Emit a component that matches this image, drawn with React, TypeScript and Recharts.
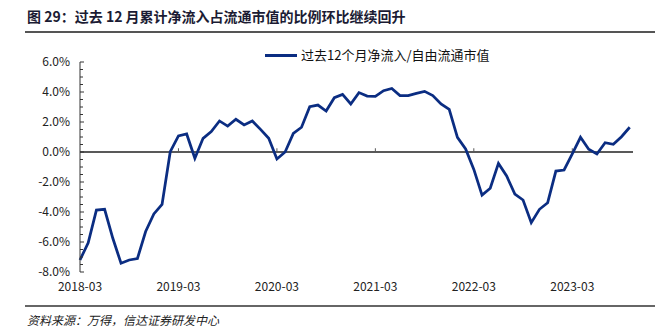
import React from "react";
import { LineChart, Line, XAxis, YAxis, ReferenceLine } from "recharts";

const TITLE = "图 29：过去 12 月累计净流入占流通市值的比例环比继续回升";
const SERIES_NAME = "过去12个月净流入/自由流通市值";
const SOURCE = "资料来源：万得，信达证券研发中心";

// Monthly values (%), 2018-03 .. 2023-10
const values: number[] = [
  -7.2, -6.05, -3.87, -3.82, -5.75, -7.42, -7.2, -7.1, -5.3, -4.13, -3.49, 0.02,
  1.07, 1.2, -0.42, 0.91, 1.36, 2.07, 1.73, 2.18, 1.8, 2.07, 1.51, 0.91,
  -0.47, 0.0, 1.24, 1.65, 3.02, 3.13, 2.73, 3.62, 3.84, 3.2, 3.96, 3.73,
  3.71, 4.09, 4.24, 3.76, 3.76, 3.91, 4.04, 3.76, 3.2, 2.84, 0.98, 0.2,
  -1.16, -2.87, -2.42, -0.76, -1.6, -2.8, -3.2, -4.71, -3.82, -3.38, -1.27, -1.2,
  -0.13, 0.98, 0.18, -0.13, 0.62, 0.51, 1.02, 1.65,
];

const xTickIndex: number[] = [0, 12, 24, 36, 48, 60];
const xTickLabels: string[] = ["2018-03", "2019-03", "2020-03", "2021-03", "2022-03", "2023-03"];
const yTicks: number[] = [
  -8, -7.5, -7, -6.5, -6, -5.5, -5, -4.5, -4, -3.5, -3, -2.5, -2, -1.5, -1, -0.5,
  0, 0.5, 1, 1.5, 2, 2.5, 3, 3.5, 4, 4.5, 5, 5.5, 6,
];

const data = values.map((v, i) => ({ idx: i, value: v }));

const LINE_COLOR = "#0b2d82";
const FONT = '"Noto Sans CJK SC", "Noto Sans", sans-serif';

const YTick = (props: any) => {
  const { x, y, payload } = props;
  const v: number = payload.value;
  const axisX = x + 10;
  const major = Math.abs(v % 2) < 1e-9;
  return (
    <g>
      <line x1={axisX} x2={axisX + (major ? 4 : 3)} y1={y} y2={y} stroke="#333" strokeWidth={1} />
      {major && (
        <text x={x} y={y} dy="0.3em" textAnchor="end" fontSize={12} fill="#222" fontFamily={FONT}>
          {v.toFixed(1) + "%"}
        </text>
      )}
    </g>
  );
};

export default function App() {
  return (
    <div style={{ position: "absolute", left: 0, top: 0, width: 663, height: 336, background: "#fff", fontFamily: FONT }}>
      <div style={{ position: "absolute", left: 27, top: 7, fontSize: 14, lineHeight: "18px", fontWeight: 700, color: "#1b1b33", whiteSpace: "nowrap" }}>
        {TITLE}
      </div>
      <div style={{ position: "absolute", left: 25, top: 31, width: 630, height: 2, background: "#555" }} />
      <div style={{ position: "absolute", left: 0, top: 0 }}>
        <LineChart width={663} height={336} data={data} margin={{ top: 62, right: 30, left: 20, bottom: 34 }}>
          <XAxis
            dataKey="idx"
            type="number"
            domain={[0, 67.4]}
            ticks={xTickIndex}
            tickFormatter={(v: number) => xTickLabels[xTickIndex.indexOf(v)] ?? ""}
            axisLine={false}
            tickLine={false}
            tickSize={0}
            tickMargin={10}
            height={30}
            interval={0}
            tick={{ fontSize: 12, fill: "#222", fontFamily: FONT }}
          />
          <YAxis
            type="number"
            domain={[-8, 6]}
            ticks={yTicks}
            interval={0}
            width={60}
            axisLine={{ stroke: "#333", strokeWidth: 1 }}
            tickLine={false}
            tickSize={0}
            tickMargin={10}
            tick={<YTick />}
          />
          <ReferenceLine y={0} stroke="#595959" strokeWidth={2} />
          {xTickIndex.slice(1).map((t) => (
            <ReferenceLine
              key={t}
              segment={[{ x: t, y: 0 }, { x: t, y: 0.25 }]}
              stroke="#595959"
              strokeWidth={1}
            />
          ))}
          <Line
            type="linear"
            dataKey="value"
            stroke={LINE_COLOR}
            strokeWidth={2.75}
            dot={false}
            isAnimationActive={false}
          />
        </LineChart>
      </div>
      <div style={{ position: "absolute", left: 265, top: 46, display: "flex", alignItems: "center", whiteSpace: "nowrap" }}>
        <div style={{ width: 32, height: 3, background: LINE_COLOR, marginRight: 4 }} />
        <span style={{ fontSize: 13, lineHeight: "18px", color: "#111" }}>{SERIES_NAME}</span>
      </div>
      <div style={{ position: "absolute", left: 25, top: 305, width: 630, height: 2, background: "#666" }} />
      <div style={{ position: "absolute", left: 27, top: 312, fontSize: 12, lineHeight: "16px", fontStyle: "italic", color: "#222", whiteSpace: "nowrap" }}>
        {SOURCE}
      </div>
    </div>
  );
}
